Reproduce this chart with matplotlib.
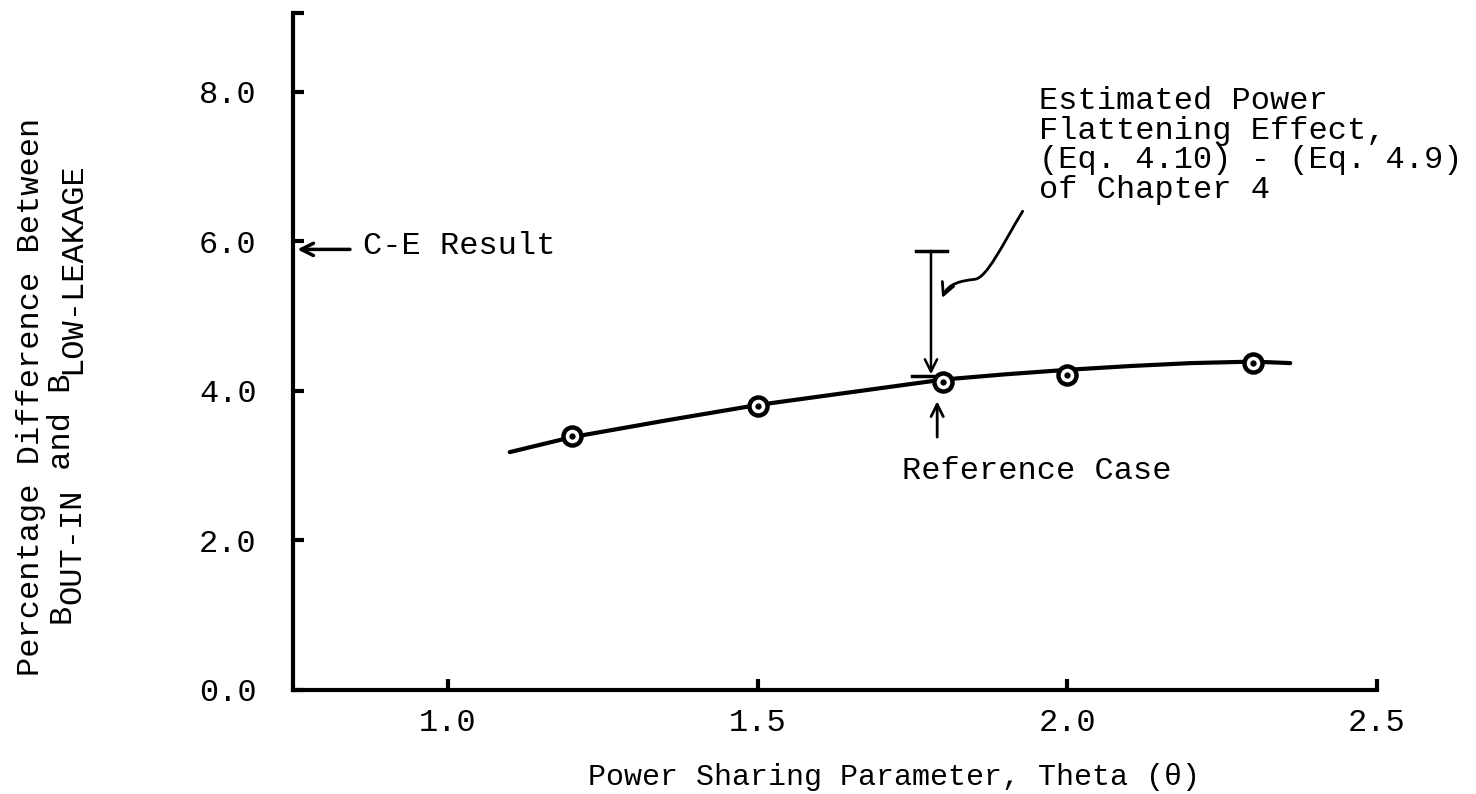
import matplotlib
matplotlib.use("Agg")
import matplotlib.pyplot as plt
from matplotlib.patches import FancyArrowPatch
from matplotlib.path import Path

plt.rcParams['font.family'] = ['Liberation Mono', 'DejaVu Sans Mono']

# measured points
theta = [1.2, 1.5, 1.8, 2.0, 2.3]
pct_diff = [3.40, 3.80, 4.12, 4.21, 4.37]

# hand-drawn trend curve through the points
curve_theta = [1.10, 1.20, 1.35, 1.50, 1.65, 1.80, 1.90, 2.00, 2.10, 2.20, 2.30, 2.36]
curve_pct = [3.18, 3.38, 3.60, 3.81, 3.98, 4.15, 4.22, 4.28, 4.33, 4.37, 4.39, 4.37]

x_ticks = [1.0, 1.5, 2.0, 2.5]
x_tick_labels = ['1.0', '1.5', '2.0', '2.5']
y_ticks = [0.0, 2.0, 4.0, 6.0, 8.0]
y_tick_labels = ['0.0', '2.0', '4.0', '6.0', '8.0']

ce_result = 5.89
flat_theta = 1.78
flat_top = 5.87
flat_bottom = 4.22

FS = 23
INK = 'black'

fig = plt.figure(figsize=(14.76, 7.94), dpi=100)
ax = fig.add_axes([0.1985, 0.131, 0.7344, 0.8526])

ax.plot(curve_theta, curve_pct, color=INK, lw=3.0, solid_capstyle='round', zorder=2)
ax.plot(theta, pct_diff, ls='none', marker='o', ms=13, mfc='white', mec=INK, mew=3.2, zorder=3)
ax.plot(theta, pct_diff, ls='none', marker='o', ms=3.5, mfc=INK, mec=INK, zorder=4)

ax.set_xlim(0.75, 2.5)
ax.set_ylim(0.0, 9.05)
ax.set_xticks(x_ticks)
ax.set_xticklabels(x_tick_labels)
ax.set_yticks(y_ticks)
ax.set_yticklabels(y_tick_labels)
ax.set_yticks([9.05], minor=True)
ax.tick_params(axis='both', which='both', direction='in', length=8, width=3, labelsize=FS)
ax.tick_params(axis='x', pad=13)
ax.tick_params(axis='y', pad=26)

for side in ['top', 'right']:
    ax.spines[side].set_visible(False)
for side in ['left', 'bottom']:
    ax.spines[side].set_linewidth(3)
    ax.spines[side].set_capstyle('projecting')

ax.set_xlabel('Power Sharing Parameter, Theta (θ)', fontsize=21.6, va='center')
ax.xaxis.set_label_coords(0.554, -0.1285)

# y label, two typed lines with full-size subscripts
fig.text(39 / 1476, (794 - 676) / 794, 'Percentage Difference Between', fontsize=FS,
         rotation=90, rotation_mode='anchor', ha='left', va='baseline')
adv = 0.6 * FS
pieces = [('B', 0), ('OUT-IN', 1), (' and B', 0), ('LOW-LEAKAGE', 1)]
n = 0
for txt, sub in pieces:
    ax.annotate(txt, xy=(70 / 1476, (794 - 623) / 794), xycoords='figure fraction',
                xytext=(7.5 * sub, n * adv), textcoords='offset points', fontsize=FS,
                rotation=90, rotation_mode='anchor', ha='left', va='baseline',
                annotation_clip=False)
    n += len(txt)

# C-E result marker on the axis
ax.annotate('', xy=(0.757, ce_result), xytext=(0.842, ce_result),
            arrowprops=dict(arrowstyle='->', lw=2.5, color=INK, mutation_scale=22,
                            shrinkA=0, shrinkB=0), annotation_clip=False)
ax.text(0.863, ce_result + 0.04, 'C-E Result', fontsize=FS, ha='left', va='center')

# power flattening bracket
ax.plot([flat_theta - 0.024, flat_theta + 0.026], [flat_top, flat_top], color=INK, lw=2.5)
ax.annotate('', xy=(flat_theta, flat_bottom), xytext=(flat_theta, flat_top),
            arrowprops=dict(arrowstyle='->', lw=1.8, color=INK, mutation_scale=22,
                            shrinkA=0, shrinkB=0))
ax.plot([flat_theta - 0.03, flat_theta + 0.004], [flat_bottom - 0.02, flat_bottom - 0.02],
        color=INK, lw=2.5)

ax.text(1.955, 8.07, 'Estimated Power\nFlattening Effect,\n(Eq. 4.10) - (Eq. 4.9)\nof Chapter 4',
        fontsize=FS, ha='left', va='top', linespacing=0.98)

wiggle = Path([(1.928, 6.40), (1.895, 5.95), (1.87, 5.50), (1.850, 5.49),
               (1.830, 5.47), (1.808, 5.44), (1.798, 5.24)],
              [Path.MOVETO, Path.CURVE4, Path.CURVE4, Path.CURVE4,
               Path.CURVE4, Path.CURVE4, Path.CURVE4])
ax.add_patch(FancyArrowPatch(path=wiggle, arrowstyle='->', lw=2.0, color=INK,
                             mutation_scale=22))

# reference case pointer
ax.annotate('', xy=(1.79, 3.86), xytext=(1.79, 3.38),
            arrowprops=dict(arrowstyle='->', lw=2.0, color=INK, mutation_scale=22,
                            shrinkA=0, shrinkB=0))
ax.text(1.734, 2.93, 'Reference Case', fontsize=FS, ha='left', va='center')

fig.savefig('out.png', dpi=100, facecolor='white')
